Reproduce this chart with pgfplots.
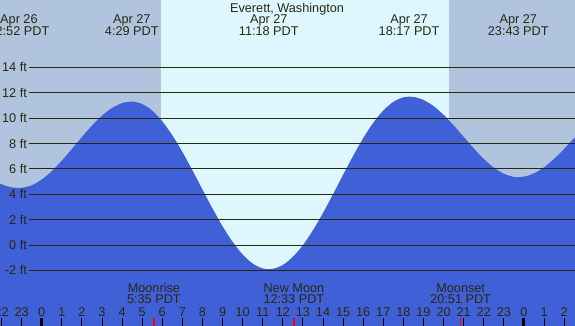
\documentclass[border=0pt]{standalone}
\usepackage{pgfplots}
\pgfplotsset{compat=1.18}
\usepackage{fontspec}
\setmainfont{Liberation Sans}
\definecolor{night}{RGB}{176,196,222}
\definecolor{day}{RGB}{222,247,255}
\definecolor{water}{RGB}{64,96,216}
\definecolor{ink}{RGB}{40,40,16}
\newcommand{\toplbl}[3]{%
  \node[anchor=base,text=ink,yshift=-24pt,inner sep=0pt] at (axis cs:#1,19.31) {#2};
  \node[anchor=base,text=ink,yshift=-36pt,inner sep=0pt] at (axis cs:#1,19.31) {#3};}
\newcommand{\moonlbl}[3]{%
  \node[anchor=base,text=ink,yshift=33.7pt,inner sep=0pt] at (axis cs:#1,-6.38) {#2};
  \node[anchor=base,text=ink,yshift=22pt,inner sep=0pt] at (axis cs:#1,-6.38) {#3};}
\begin{document}
\begin{tikzpicture}[font=\fontsize{12.7}{12}\selectfont]
\begin{axis}[at={(0,0)}, anchor=south west, scale only axis,
  width=575pt, height=326pt,
  xmin=-2.075, xmax=26.54, ymin=-6.38, ymax=19.31,
  axis line style={draw=none},
  axis background/.style={fill=night},
  axis on top,
  ytick=\empty,
  xtick={-2,-1,0,1,2,3,4,5,6,7,8,9,10,11,12,13,14,15,16,17,18,19,20,21,22,23,24,25,26},
  xticklabels={22,23,0,1,2,3,4,5,6,7,8,9,10,11,12,13,14,15,16,17,18,19,20,21,22,23,0,1,2},
  xtick pos=bottom, tick align=inside, major tick length=8pt,
  tick style={black, line width=0.9pt},
  xticklabel style={anchor=base, yshift=9.7pt, text=ink, inner sep=0pt},
  clip=true]
% daylight
\addplot[fill=day, draw=none] coordinates {(5.94,-7) (20.27,-7) (20.27,20) (5.94,20)} -- cycle;
% tide
\addplot[fill=water, draw=none, smooth] coordinates {
(-2.5,5.21) (-2,4.79) (-1.5,4.55) (-1,4.51) (-0.5,4.71) (0,5.16) (0.5,5.82) (1,6.65) (1.5,7.57)
(2,8.51) (2.5,9.41) (3,10.20) (3.5,10.80) (4,11.18) (4.5,11.30) (5,11.11) (5.5,10.59)
(6,9.75) (6.5,8.65) (7,7.34) (7.5,5.89) (8,4.37) (8.5,2.88) (9,1.48) (9.5,0.25)
(10,-0.75) (10.5,-1.46) (11,-1.84) (11.5,-1.87) (12,-1.57) (12.5,-0.93) (13,-0.01) (13.5,1.17)
(14,2.53) (14.5,4.01) (15,5.54) (15.5,7.03) (16,8.42) (16.5,9.63) (17,10.60) (17.5,11.28)
(18,11.64) (18.5,11.67) (19,11.43) (19.5,10.95) (20,10.26) (20.5,9.43) (21,8.53) (21.5,7.62)
(22,6.79) (22.5,6.10) (23,5.62) (23.5,5.37) (24,5.39) (24.5,5.65) (25,6.13) (25.5,6.80)
(26,7.58) (26.5,8.43) (27,9.26)}
 -- (axis cs:27,-7) -- (axis cs:-2.5,-7) -- cycle;
% grid lines and labels
\pgfplotsinvokeforeach{-2,0,2,4,6,8,10,12,14}{
  \addplot[ink, line width=0.9pt] coordinates {(-0.632,#1) (27,#1)};
  \node[anchor=east, text=ink, inner sep=0pt] at (axis cs:-0.73,#1) {#1 ft};
}
% special ticks
\addplot[black, line width=3pt] coordinates {(0,-6.38) (0,-5.75)};
\addplot[black, line width=3pt] coordinates {(24,-6.38) (24,-5.75)};
\addplot[red, line width=1.3pt] coordinates {(5.583,-6.38) (5.583,-5.75)};
\addplot[red, line width=1.3pt] coordinates {(12.55,-6.38) (12.55,-5.75)};
\addplot[red, line width=1.3pt] coordinates {(20.85,-6.38) (20.85,-5.75)};
% top labels
\node[anchor=base,text=ink,yshift=-12.3pt,inner sep=0pt] at (axis cs:12.21,19.31) {Everett, Washington};
\toplbl{-1.133}{Apr 26}{22:52 PDT}
\toplbl{4.483}{Apr 27}{4:29 PDT}
\toplbl{11.3}{Apr 27}{11:18 PDT}
\toplbl{18.283}{Apr 27}{18:17 PDT}
\toplbl{23.717}{Apr 27}{23:43 PDT}
% moon labels
\moonlbl{5.583}{Moonrise}{5:35 PDT}
\moonlbl{12.55}{New Moon}{12:33 PDT}
\moonlbl{20.85}{Moonset}{20:51 PDT}
\end{axis}
\pgfresetboundingbox
\useasboundingbox (0,0) rectangle (575pt,326pt);
\end{tikzpicture}
\end{document}
